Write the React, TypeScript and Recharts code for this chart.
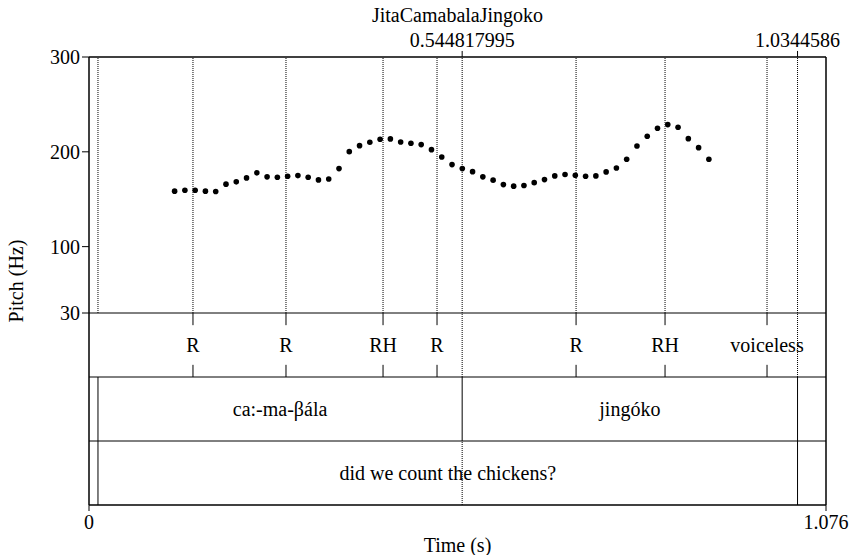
import { ComposedChart, Scatter, XAxis, YAxis, ReferenceLine, ReferenceDot } from 'recharts';

// pitch track (Praat frames)
const pitchTimes = [
  0.125, 0.140, 0.155, 0.170, 0.185, 0.200, 0.215, 0.230, 0.245, 0.260,
  0.275, 0.290, 0.305, 0.320, 0.335, 0.350, 0.365, 0.380, 0.395, 0.410,
  0.425, 0.440, 0.455, 0.470, 0.485, 0.500, 0.515, 0.530, 0.545, 0.560,
  0.575, 0.590, 0.605, 0.620, 0.635, 0.650, 0.665, 0.680, 0.695, 0.710,
  0.725, 0.740, 0.755, 0.770, 0.785, 0.800, 0.815, 0.830, 0.845, 0.860,
  0.875, 0.890, 0.905,
];
const pitchHz = [
  158.5, 159.5, 159.5, 158.5, 158.1, 165.9, 168.3, 172.5, 177.8, 173.6,
  173.2, 174.3, 174.9, 173.2, 170.4, 171.4, 182.3, 200.2, 206.5, 210.1,
  213.3, 213.6, 210.4, 209.1, 207.6, 202.3, 194.6, 186.5, 182.3, 179.1,
  173.6, 170.1, 165.4, 163.8, 164.4, 167.5, 170.7, 174.6, 176.0, 175.3,
  174.3, 174.6, 178.8, 183.0, 192.2, 206.2, 216.4, 224.9, 228.7, 225.9,
  213.9, 204.4, 192.2,
];

// TextGrid
const tonePoints = [0.1518, 0.2876, 0.4293, 0.5081, 0.7111, 0.841, 0.9899];
const toneLabels = ['R', 'R', 'RH', 'R', 'R', 'RH', 'voiceless'];
const wordBounds = [0.0131, 0.544817995, 1.0344586];
const wordLabels = ['ca:-ma-βála', 'jingóko'];
const sentenceBounds = [0.0131, 1.0344586];
const sentenceLabels = ['did we count the chickens?'];
const markedTimes = [0.544817995, 1.0344586];
const markedLabels = ['0.544817995', '1.0344586'];

const title = 'JitaCamabalaJingoko';
const duration = 1.076;
const hzTicks = [30, 100, 200, 300];

const data = pitchTimes.map((t, i) => ({ t, hz: pitchHz[i] }));
const dottedTimes = [...wordBounds, ...tonePoints].sort((a, b) => a - b);

const FONT = "'Liberation Serif', 'Times New Roman', serif";
const FS = 20;
const txt = { fill: '#000', fontSize: FS, fontFamily: FONT };

// the pitch axis runs on below 30 Hz to hold the three tiers:
// rows 0-1 sentence, 1-2 word, 2-3 tone, 3-7 pitch (30..300 Hz)
const HZ_PER_ROW = (300 - 30) / 4;
const row = (r: number) => 30 + (r - 3) * HZ_PER_ROW;
const TICK = 0.19;

const PitchLabel = (props: any) => {
  const vb = props.viewBox;
  const cx = vb.x + 16;
  const cy = vb.y + vb.height / 2;
  return (
    <text x={cx} y={cy} transform={`rotate(-90 ${cx} ${cy})`} textAnchor="middle" dominantBaseline="central" {...txt} style={{ fontFamily: FONT }}>
      Pitch (Hz)
    </text>
  );
};

// label drawn centred on a reference dot; lift > 0 puts the baseline that far above it
const serifLabel = (value: string, lift?: number) => (props: any) => {
  const vb = props.viewBox;
  const x = vb.x + vb.width / 2;
  const y = vb.y + vb.height / 2;
  return lift === undefined ? (
    <text x={x} y={y} textAnchor="middle" dominantBaseline="central" {...txt} style={{ fontFamily: FONT }}>{value}</text>
  ) : (
    <text x={x} y={y - lift} textAnchor="middle" {...txt} style={{ fontFamily: FONT }}>{value}</text>
  );
};

const vseg = (t: number, r0: number, r1: number) => [{ x: t, y: row(r0) }, { x: t, y: row(r1) }];

export default function App() {
  const dot = (p: any) => <circle cx={p.cx} cy={p.cy} r={2.8} fill="#000" />;
  return (
    <div style={{ position: 'absolute', left: 0, top: 0, background: '#fff', fontFamily: FONT, fontSize: FS }}>
      <ComposedChart width={853} height={555} margin={{ top: 57, right: 27, bottom: 0, left: 0 }}>
        <XAxis
          dataKey="t"
          type="number"
          domain={[0, duration]}
          ticks={[0, duration]}
          allowDataOverflow
          height={50}
          tickSize={6}
          tickMargin={4}
          axisLine={{ stroke: '#000', strokeWidth: 1.5 }}
          tickLine={{ stroke: '#000' }}
          tick={txt}
          label={{ value: 'Time (s)', position: 'insideBottom', offset: 3, ...txt }}
        />
        <YAxis
          type="number"
          domain={[row(0), row(7)]}
          ticks={hzTicks}
          allowDataOverflow
          width={89}
          tickSize={7}
          tickMargin={2}
          axisLine={{ stroke: '#000', strokeWidth: 1.5 }}
          tickLine={{ stroke: '#000' }}
          tick={txt}
          label={{ content: PitchLabel }}
        />

        {/* frame */}
        <ReferenceLine y={row(7)} stroke="#000" strokeWidth={1.5} />
        <ReferenceLine x={duration} stroke="#000" strokeWidth={1.5} />
        <ReferenceLine y={row(3)} stroke="#000" strokeWidth={1} />
        <ReferenceLine y={row(2)} stroke="#000" strokeWidth={1} />
        <ReferenceLine y={row(1)} stroke="#000" strokeWidth={1} />

        {/* dotted guides through pitch area */}
        {dottedTimes.map((t, i) => (
          <ReferenceLine key={'d' + i} segment={vseg(t, 3, 7)} stroke="#000" strokeDasharray="1 1" />
        ))}

        {/* tone tier (points) */}
        {tonePoints.map((t, i) => (
          <ReferenceLine key={'tt' + i} segment={vseg(t, 3 - TICK, 3)} stroke="#000" />
        ))}
        {tonePoints.map((t, i) => (
          <ReferenceLine key={'tb' + i} segment={vseg(t, 2, 2 + TICK)} stroke="#000" />
        ))}
        {tonePoints.map((t, i) => (
          <ReferenceDot key={'tl' + i} x={t} y={row(2.5)} r={0} stroke="none" label={{ content: serifLabel(toneLabels[i]) }} />
        ))}
        {wordBounds.slice(1).map((t, i) => (
          <ReferenceLine key={'td' + i} segment={vseg(t, 2, 3)} stroke="#000" strokeDasharray="1 1" />
        ))}

        {/* word tier */}
        {wordBounds.map((t, i) => (
          <ReferenceLine key={'wb' + i} segment={vseg(t, 1, 2)} stroke="#000" />
        ))}
        {wordLabels.map((w, i) => (
          <ReferenceDot key={'wl' + i} x={(wordBounds[i] + wordBounds[i + 1]) / 2} y={row(1.5)} r={0} stroke="none" label={{ content: serifLabel(w) }} />
        ))}

        {/* sentence tier */}
        {sentenceBounds.map((t, i) => (
          <ReferenceLine key={'sb' + i} segment={vseg(t, 0, 1)} stroke="#000" />
        ))}
        <ReferenceLine segment={vseg(wordBounds[1], 0, 1)} stroke="#000" strokeDasharray="1 1" />
        {sentenceLabels.map((s, i) => (
          <ReferenceDot key={'sl' + i} x={(sentenceBounds[i] + sentenceBounds[i + 1]) / 2} y={row(0.5)} r={0} stroke="none" label={{ content: serifLabel(s) }} />
        ))}

        {/* marked times above the frame */}
        {markedTimes.map((t, i) => (
          <ReferenceLine key={'mt' + i} ifOverflow="visible" segment={vseg(t, 7, 7.094)} stroke="#000" />
        ))}
        {markedTimes.map((t, i) => (
          <ReferenceDot key={'ml' + i} x={t} y={row(7)} r={0} stroke="none" label={{ content: serifLabel(markedLabels[i], 10) }} />
        ))}
        <ReferenceDot x={duration / 2} y={row(7)} r={0} stroke="none" label={{ content: serifLabel(title, 35) }} />

        <Scatter data={data} dataKey="hz" shape={dot} isAnimationActive={false} />
      </ComposedChart>
    </div>
  );
}
